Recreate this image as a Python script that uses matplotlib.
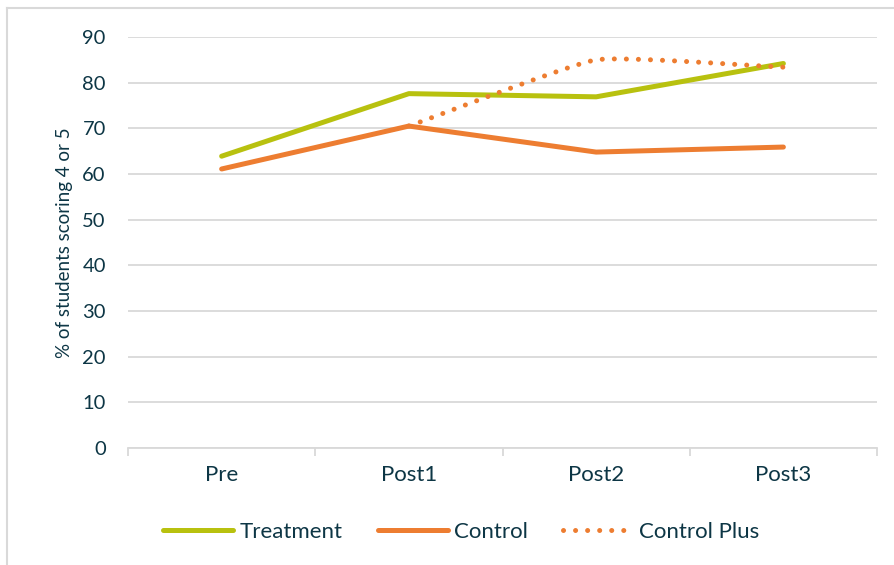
import matplotlib
matplotlib.use("Agg")
import matplotlib.pyplot as plt
import numpy as np
from matplotlib.lines import Line2D

plt.rcParams["font.family"] = ["Lato", "DejaVu Sans"]

# Survey results by time point
time_points = ["Pre", "Post1", "Post2", "Post3"]
treatment = [63.9, 77.6, 76.9, 84.2]
control = [61.1, 70.5, 64.8, 65.9]
control_plus = [np.nan, 70.5, 85.0, 83.4]

TEXT = "#0D3645"
GRID = "#D9D9D9"
GREEN = "#B8C10F"
ORANGE = "#ED7D31"


def smooth_curve(xs, ys, tension=0.4, n=40):
    """Bezier smoothing through the points, like a spreadsheet 'smoothed line'."""
    pts = np.column_stack([xs, ys])
    last = len(pts) - 1
    out = []
    for i in range(last):
        p0 = pts[max(i - 1, 0)]
        p1 = pts[i]
        p2 = pts[i + 1]
        p3 = pts[min(i + 2, last)]
        k1 = 1.0 / 6.0 if i == 0 else tension / 6.0
        k2 = 1.0 / 6.0 if i + 1 == last else tension / 6.0
        c1 = p1 + (p2 - p0) * k1
        c2 = p2 - (p3 - p1) * k2
        t = np.linspace(0, 1, n)[:, None]
        seg = ((1 - t) ** 3) * p1 + 3 * ((1 - t) ** 2) * t * c1 + 3 * (1 - t) * t**2 * c2 + t**3 * p2
        out.append(seg if i == 0 else seg[1:])
    seg = np.vstack(out)
    return seg[:, 0], seg[:, 1]


fig = plt.figure(figsize=(8.94, 5.65), dpi=100)
ax = fig.add_axes([0.1432, 0.2071, 0.8378, 0.7274])

x = np.arange(len(time_points)) + 0.5
lw = 3.6
dots = (0, (0.01, 2.4))

ax.plot(x, treatment, color=GREEN, lw=lw, solid_capstyle="round", solid_joinstyle="round", zorder=3)
ax.plot(x, control, color=ORANGE, lw=lw, solid_capstyle="round", solid_joinstyle="round", zorder=3)

cp = np.array(control_plus)
mask = ~np.isnan(cp)
sx, sy = smooth_curve(x[mask], cp[mask])
ax.plot(sx, sy, color=ORANGE, lw=lw, linestyle=dots, dash_capstyle="round", zorder=4)

ax.set_xlim(0, len(time_points))
ax.set_ylim(0, 90)
ax.set_yticks(np.arange(0, 91, 10))
ax.yaxis.grid(True, color=GRID, lw=1.3)
ax.set_axisbelow(True)
ax.tick_params(axis="y", length=0, pad=16, labelsize=14.5, labelcolor=TEXT)

ax.set_xticks(x)
ax.set_xticklabels(time_points)
ax.set_xticks(np.arange(0, len(time_points) + 1), minor=True)
ax.tick_params(axis="x", which="major", length=0, pad=12, labelsize=16, labelcolor=TEXT)
ax.tick_params(axis="x", which="minor", length=6, width=1.3, color=GRID, direction="out")

for side in ["top", "right", "left"]:
    ax.spines[side].set_visible(False)
ax.spines["bottom"].set_color(GRID)
ax.spines["bottom"].set_linewidth(1.3)

ax.set_ylabel("% of students scoring 4 or 5", fontsize=13.5, color=TEXT, labelpad=7)

handles = [
    Line2D([], [], color=GREEN, lw=lw, solid_capstyle="round"),
    Line2D([], [], color=ORANGE, lw=lw, solid_capstyle="round"),
    Line2D([], [], color=ORANGE, lw=lw, linestyle=dots, dash_capstyle="round"),
]
fig.legend(handles, ["Treatment", "Control", "Control Plus"], loc="center",
           bbox_to_anchor=(0.516, 0.058), ncol=3, frameon=False,
           fontsize=16, handlelength=3.15, handletextpad=0.27,
           columnspacing=1.6, labelcolor=TEXT)

# outer chart frame (top and left edges)
fig.add_artist(Line2D([0.008, 0.008], [0.0, 0.986], transform=fig.transFigure, color=GRID, lw=1.5))
fig.add_artist(Line2D([0.008, 1.0], [0.986, 0.986], transform=fig.transFigure, color=GRID, lw=1.5))

fig.savefig("out.png", dpi=100)
